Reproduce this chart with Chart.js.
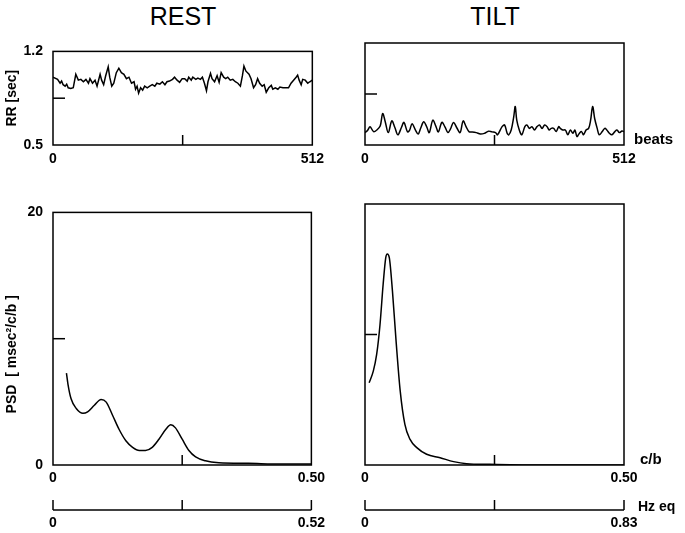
<!DOCTYPE html>
<html>
<head>
<meta charset="utf-8">
<script src="https://cdn.jsdelivr.net/npm/chart.js@4"></script>
<style>
  body { margin: 0; background: #fff; }
  #wrap { position: relative; width: 685px; height: 533px; overflow: hidden; }
  canvas { position: absolute; }
  .title { position: absolute; top: 0; width: 260px; text-align: center;
           font: 25px 'Liberation Sans', Arial, sans-serif; line-height: 32px; color: #000; }
</style>
</head>
<body>
<div id="wrap">
  <div class="title" style="left:53px">REST</div>
  <div class="title" style="left:365px">TILT</div>
  <canvas id="rrRest" width="330" height="137" style="left:0;top:33px"></canvas>
  <canvas id="rrTilt" width="345" height="137" style="left:340px;top:33px"></canvas>
  <canvas id="psdRest" width="330" height="339" style="left:0;top:194px"></canvas>
  <canvas id="psdTilt" width="345" height="339" style="left:340px;top:194px"></canvas>
</div>
<script>
// RR tachograms (beat number, RR interval in sec)
const restBeats = [0, 9, 14, 17, 20, 24, 27, 30, 35, 40,
  45, 50, 55, 60, 65, 70, 73, 78, 83, 87,
  93, 96, 100, 104, 109, 112, 116, 120, 125, 130,
  135, 140, 145, 150, 155, 160, 163, 166, 169, 173,
  177, 181, 186, 191, 196, 201, 205, 211, 216, 221,
  225, 230, 236, 240, 245, 250, 255, 260, 265, 268,
  273, 276, 282, 286, 291, 295, 299, 303, 306, 311,
  314, 319, 324, 328, 332, 337, 341, 345, 350, 355,
  360, 365, 370, 374, 377, 381, 387, 391, 396, 400,
  404, 408, 413, 417, 421, 426, 431, 434, 439, 444,
  448, 454, 459, 465, 470, 475, 480, 483, 486, 490,
  493, 498, 503, 507, 512];
const restRR = [1.007, 0.991, 0.962, 0.978, 0.951, 0.940, 0.955, 0.928, 0.922, 0.928,
  1.029, 0.985, 0.991, 0.973, 0.991, 0.962, 0.996, 0.962, 0.985, 0.940,
  1.029, 0.985, 0.951, 1.018, 1.085, 1.007, 0.940, 0.962, 1.041, 1.074,
  1.041, 1.029, 0.996, 1.007, 0.962, 0.973, 0.917, 0.940, 0.888, 0.928,
  0.910, 0.940, 0.928, 0.940, 0.951, 0.940, 0.962, 0.955, 0.973, 0.951,
  0.973, 0.978, 0.991, 1.007, 0.985, 0.969, 0.996, 0.996, 0.978, 1.007,
  0.985, 1.007, 0.991, 1.000, 0.991, 1.007, 0.962, 0.906, 0.973, 1.036,
  0.996, 0.973, 1.018, 0.969, 1.041, 1.007, 0.996, 1.007, 0.985, 0.991,
  0.973, 0.962, 0.940, 1.018, 1.090, 1.052, 1.029, 0.996, 0.928, 0.951,
  0.996, 0.962, 0.940, 0.951, 0.895, 0.928, 0.946, 0.917, 0.928, 0.917,
  0.933, 0.928, 0.928, 0.928, 0.962, 0.985, 1.007, 1.023, 0.985, 0.951,
  0.991, 0.985, 0.962, 0.973, 0.985];

const tiltBeats = [0, 5, 10, 17, 24, 30, 35, 40, 46, 53,
  59, 65, 72, 77, 84, 88, 93, 100, 105, 110,
  116, 122, 127, 134, 140, 145, 152, 158, 164, 169,
  175, 182, 188, 194, 200, 206, 212, 220, 228, 236,
  244, 251, 258, 262, 271, 276, 281, 284, 289, 294,
  297, 300, 305, 310, 316, 320, 325, 330, 335, 340,
  345, 350, 355, 360, 364, 368, 373, 378, 383, 386,
  391, 396, 401, 406, 411, 415, 419, 424, 428, 432,
  437, 442, 446, 450, 454, 459, 463, 469, 474, 478,
  483, 488, 494, 498, 503, 508, 512];
const tiltRR = [0.585, 0.600, 0.625, 0.592, 0.605, 0.630, 0.715, 0.660, 0.585, 0.665,
  0.620, 0.570, 0.620, 0.655, 0.590, 0.600, 0.645, 0.600, 0.575, 0.615,
  0.660, 0.625, 0.585, 0.670, 0.630, 0.590, 0.655, 0.625, 0.585, 0.610,
  0.655, 0.615, 0.585, 0.665, 0.625, 0.590, 0.590, 0.585, 0.575, 0.580,
  0.595, 0.590, 0.585, 0.570, 0.626, 0.637, 0.581, 0.570, 0.603, 0.693,
  0.764, 0.670, 0.603, 0.570, 0.626, 0.637, 0.614, 0.626, 0.603, 0.626,
  0.637, 0.614, 0.637, 0.626, 0.603, 0.614, 0.614, 0.592, 0.626, 0.614,
  0.603, 0.603, 0.570, 0.603, 0.581, 0.603, 0.558, 0.581, 0.592, 0.570,
  0.603, 0.614, 0.670, 0.764, 0.682, 0.614, 0.570, 0.592, 0.614, 0.603,
  0.581, 0.570, 0.592, 0.603, 0.585, 0.596, 0.592];

// power spectra (cycles/beat, msec^2/c/b)
const restFreq = [0.026, 0.029, 0.035, 0.045, 0.058, 0.067, 0.080, 0.093, 0.103, 0.115,
  0.128, 0.141, 0.154, 0.167, 0.179, 0.192, 0.205, 0.218, 0.228, 0.237,
  0.250, 0.263, 0.276, 0.295, 0.321, 0.378, 0.442, 0.500];
const restPSD = [7.28, 6.39, 5.24, 4.47, 4.09, 4.21, 4.73, 5.19, 4.98, 3.96,
  2.81, 1.92, 1.40, 1.15, 1.15, 1.40, 2.04, 2.81, 3.19, 2.94,
  2.04, 1.15, 0.64, 0.33, 0.18, 0.13, 0.08, 0.08];

const tiltFreq = [0.008, 0.016, 0.0225, 0.029, 0.035, 0.040, 0.043, 0.047, 0.053, 0.060,
  0.068, 0.077, 0.087, 0.100, 0.119, 0.145, 0.171, 0.196, 0.241, 0.338, 0.500];
const tiltPSD = [6.30, 7.19, 8.47, 10.77, 13.83, 15.87, 16.17, 15.87, 13.32, 9.49,
  5.66, 3.11, 1.96, 1.33, 0.82, 0.56, 0.26, 0.10, 0.05, 0.0, 0.0];

// Hz-equivalent end of the frequency axis
const restHzMax = 0.52;
const tiltHzMax = 0.83;

const FONT = "'Liberation Sans', Arial, Helvetica, sans-serif";
Chart.defaults.font.family = FONT;
Chart.defaults.font.size = 14;
Chart.defaults.font.weight = 'bold';
Chart.defaults.color = '#000';

function endTicks(scale) {
  scale.ticks = [{ value: scale.min }, { value: scale.max }];
}

// box around the plot, inward mid ticks, Hz bracket and side labels
const frame = {
  id: 'frame',
  afterDraw(chart, args, o) {
    const { ctx, chartArea: a, scales } = chart;
    const seg = (x1, y1, x2, y2) => {
      ctx.beginPath(); ctx.moveTo(x1, y1); ctx.lineTo(x2, y2); ctx.stroke();
    };
    ctx.save();
    ctx.strokeStyle = '#000';
    ctx.lineWidth = 1.5;
    ctx.strokeRect(a.left, a.top, a.width, a.height);
    const ym = scales.y.getPixelForValue((scales.y.min + scales.y.max) / 2);
    seg(a.left, ym, a.left + 12, ym);
    const xm = scales.x.getPixelForValue((scales.x.min + scales.x.max) / 2);
    seg(xm, a.bottom, xm, a.bottom - 10);
    const hz = scales.x2;
    if (hz) {
      const l = hz.getPixelForValue(hz.min);
      const r = hz.getPixelForValue(hz.max);
      const m = hz.getPixelForValue((hz.min + hz.max) / 2);
      seg(l, hz.top - 10, l, hz.top);
      seg(l, hz.top, r, hz.top);
      seg(r, hz.top, r, hz.top - 10);
      seg(m, hz.top, m, hz.top - 10);
    }
    ctx.fillStyle = '#000';
    ctx.font = 'bold 15px ' + FONT;
    ctx.textBaseline = 'middle';
    if (o.side) ctx.fillText(o.side, a.right + o.sideDx, a.bottom - 5);
    if (hz && o.hz) {
      ctx.font = 'bold 14px ' + FONT;
      ctx.fillText(o.hz, a.right + 14, hz.top - 3);
    }
    ctx.restore();
  }
};

function panel(id, cfg) {
  const scales = {
    x: {
      type: 'linear', min: 0, max: cfg.xMax, weight: 0,
      afterBuildTicks: endTicks,
      afterFit: s => { s.height = cfg.xHeight; },
      grid: { display: false, drawTicks: false },
      border: { display: false },
      ticks: { padding: cfg.xPad, maxRotation: 0, autoSkip: false, callback: cfg.xFmt }
    },
    y: {
      min: cfg.yMin, max: cfg.yMax,
      afterBuildTicks: endTicks,
      afterFit: s => { s.width = cfg.yWidth; },
      grid: { display: false, drawTicks: false },
      border: { display: false },
      ticks: { display: cfg.yLabels, padding: 10, callback: cfg.yFmt },
      title: { display: !!cfg.yTitle, text: cfg.yTitle, font: { size: 14, weight: 'bold' },
               padding: { top: 4, bottom: 0 } }
    }
  };
  if (cfg.hzMax) {
    scales.x2 = {
      type: 'linear', position: 'bottom', min: 0, max: cfg.hzMax, weight: 1,
      afterBuildTicks: endTicks,
      afterFit: s => { s.height = 23; },
      grid: { display: false, drawTicks: false },
      border: { display: false },
      ticks: { padding: 5, maxRotation: 0, autoSkip: false,
               callback: v => v === 0 ? '0' : v.toFixed(2) }
    };
  }
  return new Chart(document.getElementById(id), {
    type: 'line',
    data: {
      datasets: [{
        data: cfg.xs.map((x, i) => ({ x: x, y: cfg.ys[i] })),
        borderColor: '#000',
        borderWidth: 1.5,
        pointRadius: 0,
        fill: false,
        tension: cfg.tension || 0,
        cubicInterpolationMode: cfg.smooth ? 'monotone' : 'default'
      }]
    },
    options: {
      responsive: false,
      animation: false,
      layout: { padding: cfg.padding },
      scales: scales,
      plugins: {
        legend: { display: false },
        tooltip: { enabled: false },
        frame: cfg.frame || {}
      }
    },
    plugins: [frame]
  });
}

const beatFmt = v => String(v);
const rrFmt = v => v.toFixed(1);
const cbFmt = v => v === 0 ? '0' : v.toFixed(2);
const psdFmt = v => String(v);

panel('rrRest', {
  xs: restBeats, ys: restRR, xMax: 512, yMin: 0.5, yMax: 1.2,
  xFmt: beatFmt, yFmt: rrFmt, yLabels: true, yTitle: 'RR [sec]',
  yWidth: 53, xHeight: 25, xPad: 6, padding: { top: 10, right: 17, left: 0, bottom: 0 }
});
panel('rrTilt', {
  xs: tiltBeats, ys: tiltRR, xMax: 512, yMin: 0.5, yMax: 1.2, tension: 0.35,
  xFmt: beatFmt, yFmt: rrFmt, yLabels: false,
  yWidth: 25, xHeight: 25, xPad: 6, padding: { top: 10, right: 61, left: 0, bottom: 0 },
  frame: { side: 'beats', sideDx: 10 }
});
panel('psdRest', {
  xs: restFreq, ys: restPSD, xMax: 0.5, yMin: 0, yMax: 20, smooth: true,
  xFmt: cbFmt, yFmt: psdFmt, yLabels: true, yTitle: 'PSD  [ msec\u00b2/c/b ]        ',
  yWidth: 53, xHeight: 45, xPad: 5, hzMax: restHzMax,
  padding: { top: 10, right: 17, left: 0, bottom: 0 }
});
panel('psdTilt', {
  xs: tiltFreq, ys: tiltPSD, xMax: 0.5, yMin: 0, yMax: 20, smooth: true,
  xFmt: cbFmt, yFmt: psdFmt, yLabels: false,
  yWidth: 25, xHeight: 45, xPad: 5, hzMax: tiltHzMax,
  padding: { top: 10, right: 61, left: 0, bottom: 0 },
  frame: { side: 'c/b', sideDx: 16, hz: 'Hz eq' }
});
</script>
</body>
</html>
